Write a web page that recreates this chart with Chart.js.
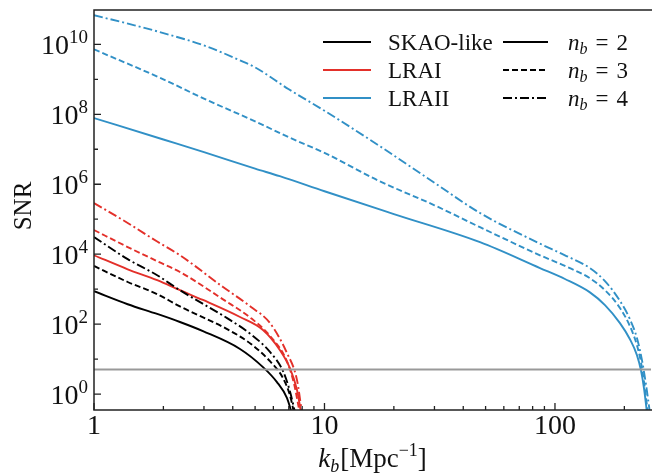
<!DOCTYPE html>
<html>
<head>
<meta charset="utf-8">
<script src="https://cdn.jsdelivr.net/npm/chart.js@4/dist/chart.umd.min.js"></script>
<style>
  html, body { margin: 0; padding: 0; background: #fff; }
</style>
</head>
<body>
<canvas id="chart" width="652" height="474"></canvas>
<script>
// k_b [Mpc^-1] and SNR
const kSkao2 = [1, 1.4, 1.88, 2.36, 2.97, 4.3, 5.41, 6.22, 6.87, 7.2];
const snrSkao2 = [870, 370, 195, 115, 63, 19.5, 5.9, 2.2, 0.78, 0.3];
const kSkao3 = [1, 1.4, 1.88, 2.36, 3.78, 4.8, 5.8, 6.6, 7.08, 7.37];
const snrSkao3 = [4.6e3, 1.6e3, 720, 320, 72, 27, 8.7, 2.9, 0.93, 0.3];
const kSkao4 = [1, 1.4, 1.88, 2.36, 3.78, 4.8, 5.8, 6.6, 7.08, 7.45];
const snrSkao4 = [3.1e4, 7.2e3, 2.5e3, 930, 148, 51, 16, 4.6, 1.2, 0.3];

const kLrai2 = [1, 1.4, 1.88, 2.36, 2.97, 4.3, 5.41, 6.41, 7.08, 7.6, 7.91];
const snrLrai2 = [9.3e3, 3.7e3, 1.8e3, 930, 490, 160, 68, 18, 5.5, 1.3, 0.3];
const kLrai3 = [1, 1.4, 1.88, 2.36, 3.63, 4.8, 5.8, 6.87, 7.4, 7.8];
const snrLrai3 = [4.9e4, 1.6e4, 6.3e3, 3.1e3, 510, 148, 46, 8.7, 1.8, 0.3];
const kLrai4 = [1, 1.4, 1.88, 2.36, 3.63, 4.8, 5.8, 6.87, 7.6, 7.98];
const snrLrai4 = [2.9e5, 7.8e4, 2.3e4, 9.3e3, 1.15e3, 310, 107, 15, 2.5, 0.3];

const kLraii2 = [1, 2, 3, 5, 6.4, 10, 20, 47.3, 86.1, 110.5, 141.8, 164.8, 191.4, 211.5, 226.8, 236, 243.3, 250.6];
const snrLraii2 = [7.8e7, 1.9e7, 8.3e6, 2.8e6, 1.7e6, 6.3e5, 1.4e5, 2.2e4, 4e3, 1.95e3, 810, 350, 107, 37, 13, 4.85, 1.48, 0.3];
const kLraii3 = [1, 2, 3, 5, 7, 10, 17, 30, 47.3, 86.1, 110.5, 141.8, 164.8, 191.4, 211.5, 226.8, 236, 244.5, 252.7];
const snrLraii3 = [7.2e9, 1e9, 2.8e8, 6.3e7, 2.2e7, 7.9e6, 1.3e6, 2.5e5, 5.9e4, 9.3e3, 4.6e3, 2.05e3, 930, 290, 87, 25, 8.2, 1.8, 0.3];
const kLraii4 = [1, 1.5, 2, 3, 4.3, 5, 7, 10, 17, 30, 47.3, 86.1, 110.5, 141.8, 164.8, 191.4, 211.5, 226.8, 238.5, 248, 258];
const snrLraii4 = [6.8e10, 3.5e10, 2.1e10, 9.3e9, 3.5e9, 2.2e9, 5.2e8, 1.26e8, 1.35e7, 1.1e6, 1.5e5, 2e4, 9.3e3, 4e3, 1.7e3, 460, 138, 40, 9.3, 1.95, 0.3];

const threshold = 5;

const xRange = [1, 261];
const yRange = [0.35, 9.6e10];
const xMajor = [1, 10, 100];
const xMajorLabels = ['1', '10', '100'];
const xMinor = [2, 3, 4, 5, 6, 7, 8, 9, 20, 30, 40, 50, 60, 70, 80, 90, 200];
const yMajor = [1e0, 1e2, 1e4, 1e6, 1e8, 1e10];
const yMajorExp = ['0', '2', '4', '6', '8', '10'];
const yMinor = [1e1, 1e3, 1e5, 1e7, 1e9];

const surveys = ['SKAO-like', 'LRAI', 'LRAII'];
const nbLabels = ['2', '3', '4'];

const BLACK = '#000000';
const RED = '#e3302a';
const BLUE = '#3190c6';
const DASHES = [[], [6, 3], [9, 3, 2, 3]];
const serif = '"Liberation Serif", "DejaVu Serif", serif';

function pts(ks, vals) {
    return ks.map((k, i) => ({ x: k, y: vals[i] }));
}

function curve(ks, vals, color, style) {
    return {
        data: pts(ks, vals),
        borderColor: color,
        borderWidth: 1.9,
        borderDash: DASHES[style],
        pointRadius: 0,
        fill: false,
        cubicInterpolationMode: 'monotone'
    };
}

const datasets = [
    {
        data: [{ x: xRange[0], y: threshold }, { x: xRange[1], y: threshold }],
        borderColor: '#999999',
        borderWidth: 2,
        pointRadius: 0,
        fill: false
    },
    curve(kSkao2, snrSkao2, BLACK, 0),
    curve(kSkao3, snrSkao3, BLACK, 1),
    curve(kSkao4, snrSkao4, BLACK, 2),
    curve(kLrai2, snrLrai2, RED, 0),
    curve(kLrai3, snrLrai3, RED, 1),
    curve(kLrai4, snrLrai4, RED, 2),
    curve(kLraii2, snrLraii2, BLUE, 0),
    curve(kLraii3, snrLraii3, BLUE, 1),
    curve(kLraii4, snrLraii4, BLUE, 2)
];

// draw a run of text pieces (italic / sub / superscripts)
function drawRuns(ctx, runs, x, y, align) {
    let total = 0;
    runs.forEach(r => {
        ctx.font = (r.italic ? 'italic ' : '') + r.size + 'px ' + serif;
        r.w = ctx.measureText(r.text).width;
        total += r.w + (r.gap || 0);
    });
    let cx = align === 'right' ? x - total : align === 'center' ? x - total / 2 : x;
    ctx.textAlign = 'left';
    ctx.textBaseline = 'alphabetic';
    runs.forEach(r => {
        ctx.font = (r.italic ? 'italic ' : '') + r.size + 'px ' + serif;
        ctx.fillText(r.text, cx, y + (r.dy || 0));
        cx += r.w + (r.gap || 0);
    });
}

const axesPlugin = {
    id: 'axesPlugin',
    afterDraw(chart) {
        const ctx = chart.ctx;
        const area = chart.chartArea;
        const xs = chart.scales.x;
        const ys = chart.scales.y;
        ctx.save();

        // frame (right side is cut in the original)
        ctx.strokeStyle = '#222';
        ctx.lineWidth = 1.5;
        ctx.beginPath();
        ctx.moveTo(area.right + 2, area.top);
        ctx.lineTo(area.left, area.top);
        ctx.lineTo(area.left, area.bottom);
        ctx.lineTo(area.right + 2, area.bottom);
        ctx.stroke();

        // inward ticks
        ctx.lineWidth = 1.3;
        ctx.beginPath();
        xMajor.forEach(v => {
            const px = xs.getPixelForValue(v);
            ctx.moveTo(px, area.bottom);
            ctx.lineTo(px, area.bottom - 7);
        });
        xMinor.forEach(v => {
            const px = xs.getPixelForValue(v);
            ctx.moveTo(px, area.bottom);
            ctx.lineTo(px, area.bottom - 4);
        });
        yMajor.forEach(v => {
            const py = ys.getPixelForValue(v);
            ctx.moveTo(area.left, py);
            ctx.lineTo(area.left + 7, py);
        });
        yMinor.forEach(v => {
            const py = ys.getPixelForValue(v);
            ctx.moveTo(area.left, py);
            ctx.lineTo(area.left + 4, py);
        });
        ctx.stroke();

        ctx.fillStyle = '#111';
        // x tick labels
        xMajor.forEach((v, i) => {
            drawRuns(ctx, [{ text: xMajorLabels[i], size: 28 }], xs.getPixelForValue(v), area.bottom + 24, 'center');
        });
        // y tick labels 10^n
        yMajor.forEach((v, i) => {
            const py = ys.getPixelForValue(v);
            drawRuns(ctx, [
                { text: '10', size: 28 },
                { text: yMajorExp[i], size: 19, dy: -11 }
            ], area.left - 6, py + 10, 'right');
        });

        // axis titles
        drawRuns(ctx, [
            { text: 'k', size: 27, italic: true },
            { text: 'b', size: 18, italic: true, dy: 5, gap: 1 },
            { text: '[Mpc', size: 27 },
            { text: '\u22121', size: 18, dy: -11 },
            { text: ']', size: 27 }
        ], (area.left + area.right) / 2, 467, 'center');

        ctx.save();
        ctx.translate(22, (area.top + area.bottom) / 2 - 4);
        ctx.rotate(-Math.PI / 2);
        drawRuns(ctx, [{ text: 'SNR', size: 25 }], 0, 9, 'center');
        ctx.restore();

        // legend: colours (left column), line styles (right column)
        const rows = [42, 70, 98];
        const colColors = [BLACK, RED, BLUE];
        ctx.lineWidth = 1.9;
        rows.forEach((ry, i) => {
            ctx.strokeStyle = colColors[i];
            ctx.setLineDash([]);
            ctx.beginPath();
            ctx.moveTo(323, ry);
            ctx.lineTo(371, ry);
            ctx.stroke();
            ctx.fillStyle = '#111';
            drawRuns(ctx, [{ text: surveys[i], size: 23 }], 388, ry + 8, 'left');

            ctx.strokeStyle = BLACK;
            ctx.setLineDash(DASHES[i]);
            ctx.beginPath();
            ctx.moveTo(503, ry);
            ctx.lineTo(548, ry);
            ctx.stroke();
            ctx.setLineDash([]);
            drawRuns(ctx, [
                { text: 'n', size: 23, italic: true },
                { text: 'b', size: 16, italic: true, dy: 4, gap: 8 },
                { text: '=', size: 23, gap: 8 },
                { text: nbLabels[i], size: 23 }
            ], 568, ry + 8, 'left');
        });

        ctx.restore();
    }
};

new Chart(document.getElementById('chart'), {
    type: 'line',
    data: { datasets: datasets },
    options: {
        responsive: false,
        animation: false,
        events: [],
        layout: { padding: { left: 94, right: 1, top: 10, bottom: 64 } },
        plugins: {
            legend: { display: false },
            tooltip: { enabled: false },
            title: { display: false }
        },
        scales: {
            x: { type: 'logarithmic', display: false, min: xRange[0], max: xRange[1] },
            y: { type: 'logarithmic', display: false, min: yRange[0], max: yRange[1] }
        }
    },
    plugins: [axesPlugin]
});
</script>
</body>
</html>
